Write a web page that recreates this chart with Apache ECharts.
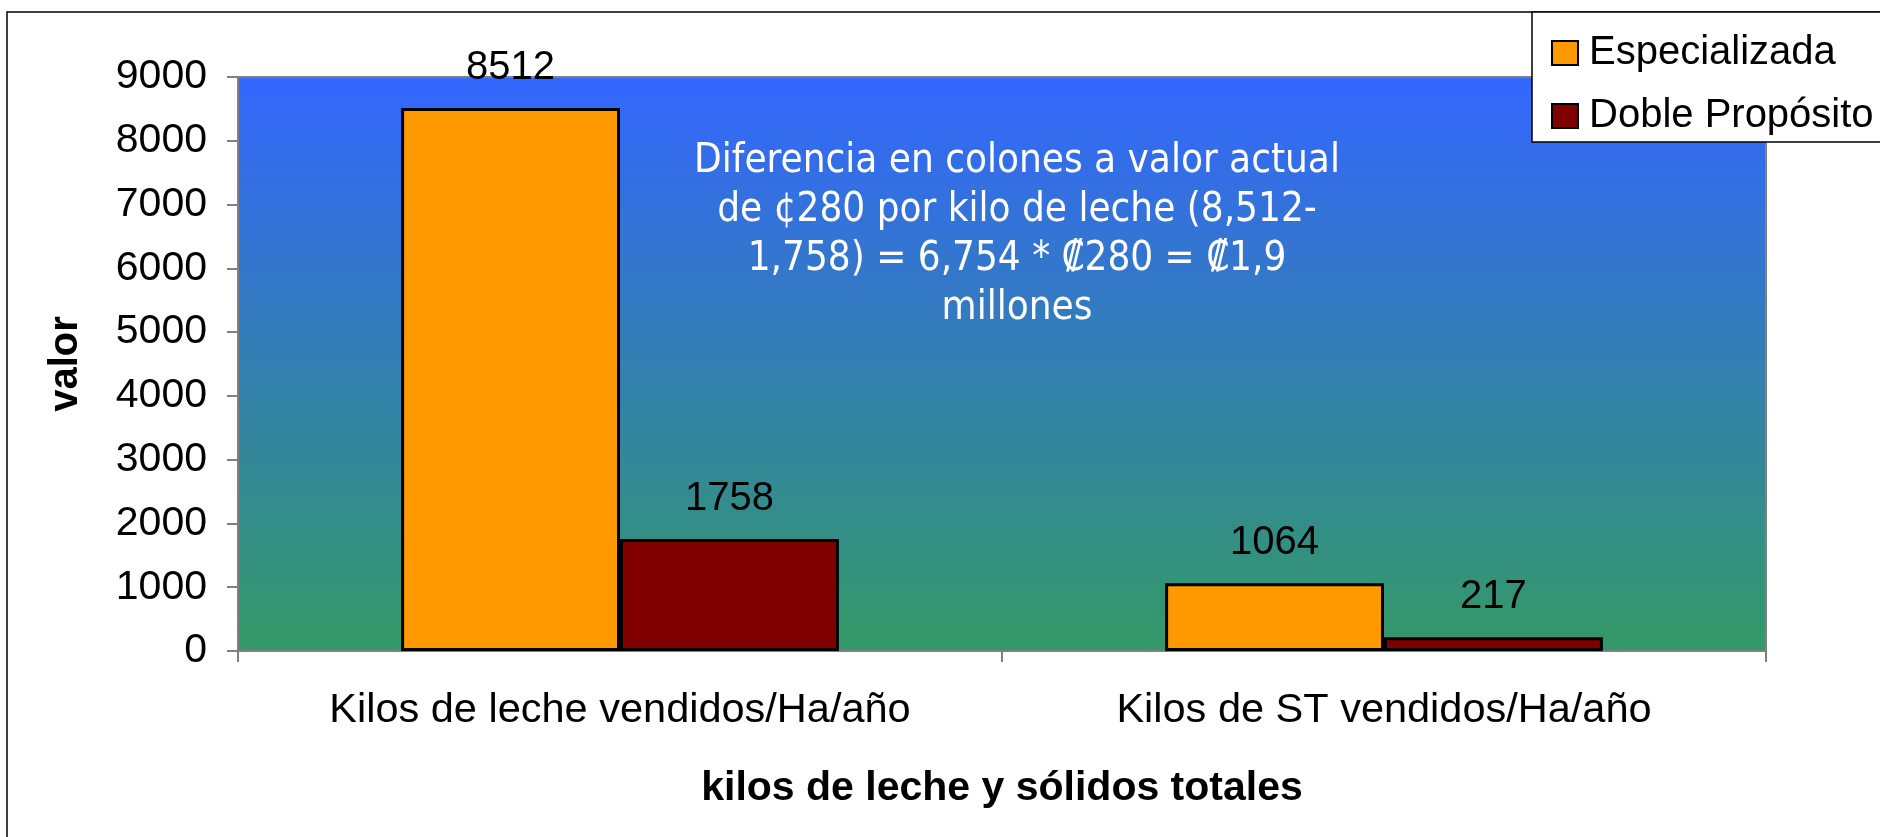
<!DOCTYPE html>
<html>
<head>
<meta charset="utf-8">
<title>Kilos de leche y sólidos totales</title>
<script src="https://cdn.jsdelivr.net/npm/echarts@6/dist/echarts.min.js"></script>
<style>
  html, body { margin: 0; padding: 0; background: #fff; }
  #chart { width: 1880px; height: 837px; }
</style>
</head>
<body>
<div id="chart"></div>
<script>
// categorías y valores
const categorias = ['Kilos de leche vendidos/Ha/año', 'Kilos de ST vendidos/Ha/año']
const especializada = [8512, 1064]
const doblePropósito = [1758, 217]
const nombresSeries = ['Especializada', 'Doble Propósito']
const notaLineas = [
  'Diferencia en colones a valor actual',
  'de ¢280 por kilo de leche (8,512-',
  '1,758) = 6,754 * ₡280 = ₡1,9',
  'millones'
]

const chart = echarts.init(document.getElementById('chart'))
const fuente = '"Liberation Sans", Arial, sans-serif'

const etiqueta = {
  show: true,
  position: 'top',
  distance: 20,
  color: '#000',
  fontSize: 40,
  fontFamily: fuente
}

const option = {
  animation: false,
  textStyle: { fontFamily: fuente },
  grid: {
    left: 238,
    right: 114,
    top: 77,
    bottom: 186,
    show: true,
    borderColor: '#808080',
    borderWidth: 2,
    backgroundColor: new echarts.graphic.LinearGradient(0, 0, 0, 1, [
      { offset: 0, color: '#3366ff' },
      { offset: 1, color: '#339966' }
    ])
  },
  legend: {
    orient: 'vertical',
    left: 1546,
    top: 28,
    z: 20,
    itemWidth: 26,
    itemHeight: 24,
    itemGap: 23,
    icon: 'rect',
    textStyle: { fontSize: 40, color: '#000', lineHeight: 40, padding: [0, 0, 0, 6] },
    data: nombresSeries
  },
  xAxis: {
    type: 'category',
    data: categorias,
    axisLine: { lineStyle: { color: '#808080', width: 2 } },
    axisTick: { show: true, length: 11, lineStyle: { color: '#808080', width: 2 } },
    axisLabel: { color: '#000', fontSize: 41.5, margin: 39 },
    name: 'kilos de leche y sólidos totales',
    nameLocation: 'middle',
    nameGap: 117,
    nameTextStyle: { color: '#000', fontSize: 41, fontWeight: 'bold' }
  },
  yAxis: {
    type: 'value',
    min: 0,
    max: 9000,
    interval: 1000,
    splitLine: { show: false },
    axisLine: { show: true, lineStyle: { color: '#808080', width: 2 } },
    axisTick: { show: true, length: 11, lineStyle: { color: '#808080', width: 2 } },
    axisLabel: { color: '#000', fontSize: 41, margin: 31, formatter: v => String(v) },
    name: 'valor',
    nameLocation: 'middle',
    nameGap: 152,
    nameTextStyle: { color: '#000', fontSize: 40, fontWeight: 'bold' }
  },
  series: [
    {
      name: nombresSeries[0],
      type: 'bar',
      data: especializada,
      barGap: '0%',
      barCategoryGap: '42.7%',
      itemStyle: { color: '#ff9900', borderColor: '#000', borderWidth: 3 },
      label: etiqueta
    },
    {
      name: nombresSeries[1],
      type: 'bar',
      data: doblePropósito,
      itemStyle: { color: '#800000', borderColor: '#000', borderWidth: 3 },
      label: etiqueta
    }
  ],
  graphic: [
    {
      type: 'rect',
      z: -10,
      silent: true,
      shape: { x: 7, y: 12, width: 1900, height: 900 },
      style: { fill: 'none', stroke: '#000', lineWidth: 1.5 }
    },
    {
      type: 'rect',
      z: 3,
      silent: true,
      shape: { x: 1532, y: 12, width: 400, height: 130 },
      style: { fill: '#fff', stroke: '#000', lineWidth: 1.5 }
    },
    {
      type: 'text',
      z: 10,
      silent: true,
      x: 1017,
      y: 137,
      style: {
        text: notaLineas.join('\n'),
        fill: '#fff',
        font: '40px "DejaVu Sans Condensed", Lato, sans-serif',
        lineHeight: 49,
        align: 'center',
        verticalAlign: 'top'
      }
    }
  ]
}

chart.setOption(option)
</script>
</body>
</html>
